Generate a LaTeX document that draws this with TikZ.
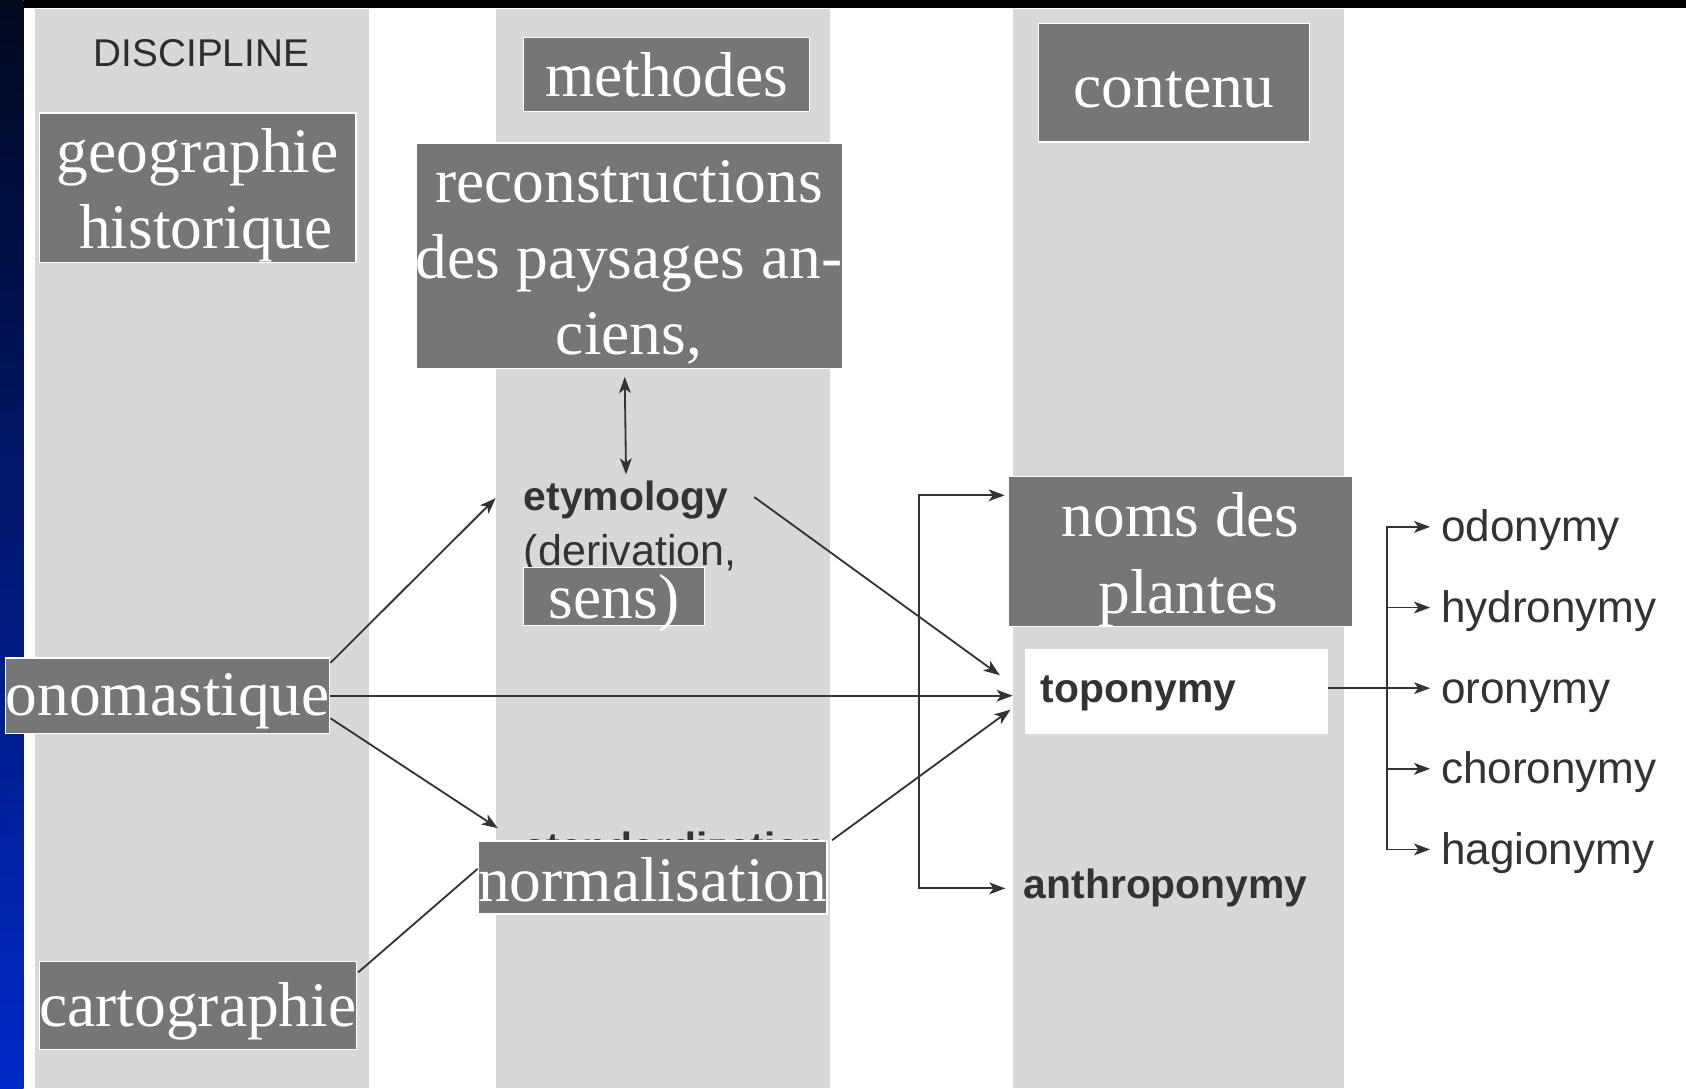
\documentclass[tikz,border=0pt]{standalone}
\usepackage{fontspec}
\setmainfont{Liberation Serif}
\newfontfamily\lsans{Liberation Sans}
\usetikzlibrary{arrows.meta,calc}
\definecolor{colgray}{RGB}{216,216,216}
\definecolor{boxgray}{RGB}{118,118,118}
\definecolor{ink}{RGB}{51,51,51}
\definecolor{slidenavy}{RGB}{0,8,30}
\definecolor{slideblue}{RGB}{0,40,200}
\newcommand\mystrut[2]{\rule[-#2pt]{0pt}{\dimexpr#1pt+#2pt\relax}}
\begin{document}
\begin{tikzpicture}[x=1pt,y=-1pt,
  gbox/.style={fill=boxgray, draw=white, line width=1.2pt, text=white, inner sep=0pt,
    font=\fontsize{59}{71}\selectfont, align=center},
  lbl/.style={text=ink, inner sep=0pt, anchor=base west},
  bsans/.style={lbl, font=\lsans\bfseries\fontsize{38}{44}\selectfont},
  rsans/.style={lbl, font=\lsans\fontsize{41}{48}\selectfont},
  conn/.style={draw=ink, line width=1.7pt},
  arr/.style={conn, -{Stealth[length=15pt,width=11pt,inset=4pt]}},
  darr/.style={conn, {Stealth[length=15pt,width=11pt,inset=4pt]}-{Stealth[length=15pt,width=11pt,inset=4pt]}},
]
\useasboundingbox (0,0) rectangle (1568,1012);
% background
\fill[white] (0,0) rectangle (1568,1012);
\shade[top color=slidenavy, bottom color=slideblue] (0,0) rectangle (22,1012);
\fill[black] (22,0) rectangle (1568,7);
% columns
\fill[colgray] (33,8) rectangle (343,1012);
\fill[colgray] (461,8) rectangle (772,1012);
\fill[colgray] (942,8) rectangle (1250,1012);

% printed labels
\node[lbl, text={rgb,255:red,45;green,45;blue,45}, font=\lsans\fontsize{36}{42}\selectfont] (disc) at (87,62) {DISCIPLINE};
\node[bsans] (etym) at (487,475) {etymology};
\node[lbl, font=\lsans\fontsize{40}{46}\selectfont] (deriv) at (487,526) {(derivation,};
\node[bsans] (std) at (487,801) {standardization};
\node[fill=white, minimum width=282pt, minimum height=79pt, text width=252pt, align=left,
  inner xsep=15pt, inner ysep=0pt, text height=33pt, text depth=14pt, text=ink,
  font=\lsans\bfseries\fontsize{38}{44}\selectfont] (topo) at (1094,643.5) {toponymy};
\node[bsans] (anthro) at (952,836) {anthroponymy};
\node[rsans] (odo) at (1340,504) {odonymy};
\node[rsans] (hyd) at (1340,579) {hydronymy};
\node[rsans] (oro) at (1340,654) {oronymy};
\node[rsans] (cho) at (1340,729) {choronymy};
\node[rsans] (hag) at (1340,804) {hagionymy};

% overlay boxes
\node[gbox, minimum width=294pt, minimum height=139pt] (geo) at (184,174.5)
  {\mystrut{55}{0}geographie\\\hspace*{15pt}historique\mystrut{0}{13}};
\node[gbox, minimum width=266pt, minimum height=69pt, text height=50pt, text depth=9pt] (meth) at (620,69.5) {methodes};
\node[gbox, minimum width=392pt, minimum height=210pt] (recon) at (585,238)
  {\mystrut{55}{0}reconstructions\\des paysages an-\\ciens,\mystrut{0}{13}};
\node[gbox, minimum width=252pt, minimum height=110pt, text height=56pt, text depth=10pt] (cont) at (1092,77) {contenu};
\node[gbox, minimum width=168pt, minimum height=54pt, text height=47pt, text depth=7pt] (sens) at (571,555) {sens)};
\node[gbox, minimum width=296pt, minimum height=70pt, text height=53pt, text depth=17pt] (onom) at (156,647) {onomastique};
\node[gbox, minimum width=294pt, minimum height=82pt, text height=60pt, text depth=20pt] (carto) at (184,935) {cartographie};
\node[gbox, minimum width=322pt, minimum height=68pt, text height=56pt, text depth=12pt] (normal) at (607,816) {normalisation};
\node[gbox, minimum width=320pt, minimum height=138pt] (noms) at (1098,513)
  {\mystrut{56}{0}noms des\\\hspace*{14pt}plantes\mystrut{0}{10}};

% connectors
\draw[arr] ($(onom.north east)+(0,5)$) -- ($(etym.west)+(-26,-2)$);
\draw[arr] (onom.east) -- ($(onom.east -| topo.west)+(-11,0)$);
\draw[arr] ($(onom.east)+(0,21)$) -- ($(std.north west)+(-24,-3)$);
\draw[arr] ($(etym.east)+(24,-3)$) -- ($(topo.west)+(-23,-15.5)$);
\draw[arr] ($(normal.north east)+(4,0)$) -- ($(topo.west)+(-13,16.5)$);
\draw[conn] ($(carto.north east)+(1,11)$) -- ($(normal.west)+(0,-8)$);
\draw[darr] ($(recon.south)+(-4,7)$) -- ($(etym.north)+(0,-6)$);
\draw[darr] ($(noms.north west)+(-3,18)$) -| ($(anthro.west)+(-97,0)$) -- ($(anthro.west)+(-17,0)$);

\coordinate (odoT) at ($(odo.base west)+(-10,-14)$);
\coordinate (hydT) at ($(hyd.base west)+(-10,-14)$);
\coordinate (oroT) at ($(oro.base west)+(-10,-14)$);
\coordinate (choT) at ($(cho.base west)+(-10,-14)$);
\coordinate (hagT) at ($(hag.base west)+(-10,-14)$);
\draw[arr] (topo.east |- oroT) -- (oroT);
\draw[darr] (odoT) -| ($(hagT)+(-40,0)$) -- (hagT);
\draw[arr] ($(hydT)+(-40,0)$) -- (hydT);
\draw[arr] ($(choT)+(-40,0)$) -- (choT);
\end{tikzpicture}
\end{document}
